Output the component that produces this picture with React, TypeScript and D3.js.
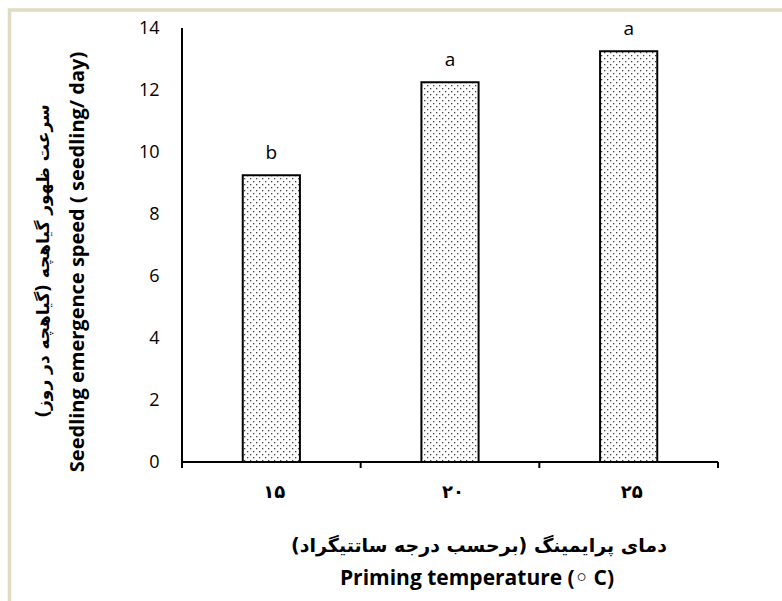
import React from "react";
import * as d3 from "d3";

const categories = ["۱۵", "۲۰", "۲۵"];
const values = [9.25, 12.25, 13.25];
const letters = ["b", "a", "a"];
const yTicks = [0, 2, 4, 6, 8, 10, 12, 14];
const yTitleFa = "سرعت ظهور گیاهچه (گیاهچه در روز)";
const yTitleEn = "Seedling emergence speed ( seedling/ day)";
const xTitleFa = "دمای پرایمینگ (برحسب درجه ساتتیگراد)";
const xTitleEn = "Priming temperature (◦ C)";

const W = 782;
const H = 601;
const left = 182;
const right = 718;
const top = 28;
const bottom = 462;
const font = "'Open Sans', 'DejaVu Sans', sans-serif";
const faFont = "'DejaVu Sans', sans-serif";

export default function App() {
  const x = d3
    .scaleBand<string>()
    .domain(categories)
    .range([left, right])
    .paddingInner(0.68)
    .paddingOuter(0.34);
  const y = d3.scaleLinear().domain([0, 14]).range([bottom, top]);
  const step = x.step();
  const boundaries = d3.range(categories.length + 1).map((i) => left + i * step);

  return (
    <svg
      width={W}
      height={H}
      style={{ position: "absolute", left: 0, top: 0, background: "#fff" }}
    >
      <defs>
        <pattern id="dots" width={6} height={6} patternUnits="userSpaceOnUse">
          <rect width={6} height={6} fill="#fff" />
          <rect x={1} y={1} width={1.3} height={1.3} fill="#444" />
          <rect x={4} y={4} width={1.3} height={1.3} fill="#444" />
        </pattern>
      </defs>
      <path d={`M9.5,${H} V10 H${W}`} fill="none" stroke="#e0dcc4" strokeWidth={3.5} />

      {categories.map((c, i) => (
        <g key={c}>
          <rect
            x={x(c)}
            y={y(values[i])}
            width={x.bandwidth()}
            height={bottom - y(values[i])}
            fill="url(#dots)"
            stroke="#000"
            strokeWidth={2}
          />
          <text
            x={(x(c) as number) + x.bandwidth() / 2}
            y={y(values[i]) - 16}
            textAnchor="middle"
            fontFamily={font}
            fontSize={19}
            fill="#000"
          >
            {letters[i]}
          </text>
          <text
            x={(x(c) as number) + x.bandwidth() / 2 + 3}
            y={492}
            dy="0.35em"
            textAnchor="middle"
            fontFamily={faFont}
            fontWeight="bold"
            fontSize={18}
            letterSpacing={7}
            fill="#000"
          >
            {c}
          </text>
        </g>
      ))}

      <line x1={left} x2={left} y1={top} y2={bottom} stroke="#000" strokeWidth={2} />
      <line x1={left} x2={right} y1={bottom} y2={bottom} stroke="#000" strokeWidth={2} />
      {boundaries.map((b, i) => (
        <line key={i} x1={b} x2={b} y1={bottom} y2={bottom + 6} stroke="#000" strokeWidth={2} />
      ))}
      {yTicks.map((t) => (
        <text
          key={t}
          x={159.5}
          y={y(t)}
          dy="0.35em"
          textAnchor="end"
          fontFamily={font}
          fontSize={18}
          fill="#000"
        >
          {t}
        </text>
      ))}

      <text
        transform={`translate(43,261) rotate(-90)`}
        dy="0.35em"
        textAnchor="middle"
        fontFamily={faFont}
        fontWeight="bold"
        fontSize={17}
        direction="rtl"
      >
        {yTitleFa}
      </text>
      <text
        transform={`translate(77,262) rotate(-90)`}
        dy="0.35em"
        textAnchor="middle"
        fontFamily={font}
        fontWeight="bold"
        fontSize={20}
      >
        {yTitleEn}
      </text>
      <text
        x={479}
        y={545}
        dy="0.35em"
        textAnchor="middle"
        fontFamily={faFont}
        fontWeight="bold"
        fontSize={19}
        direction="rtl"
      >
        {xTitleFa}
      </text>
      <text
        x={477}
        y={578}
        dy="0.35em"
        textAnchor="middle"
        fontFamily={font}
        fontWeight="bold"
        fontSize={21}
      >
        {xTitleEn}
      </text>
    </svg>
  );
}
